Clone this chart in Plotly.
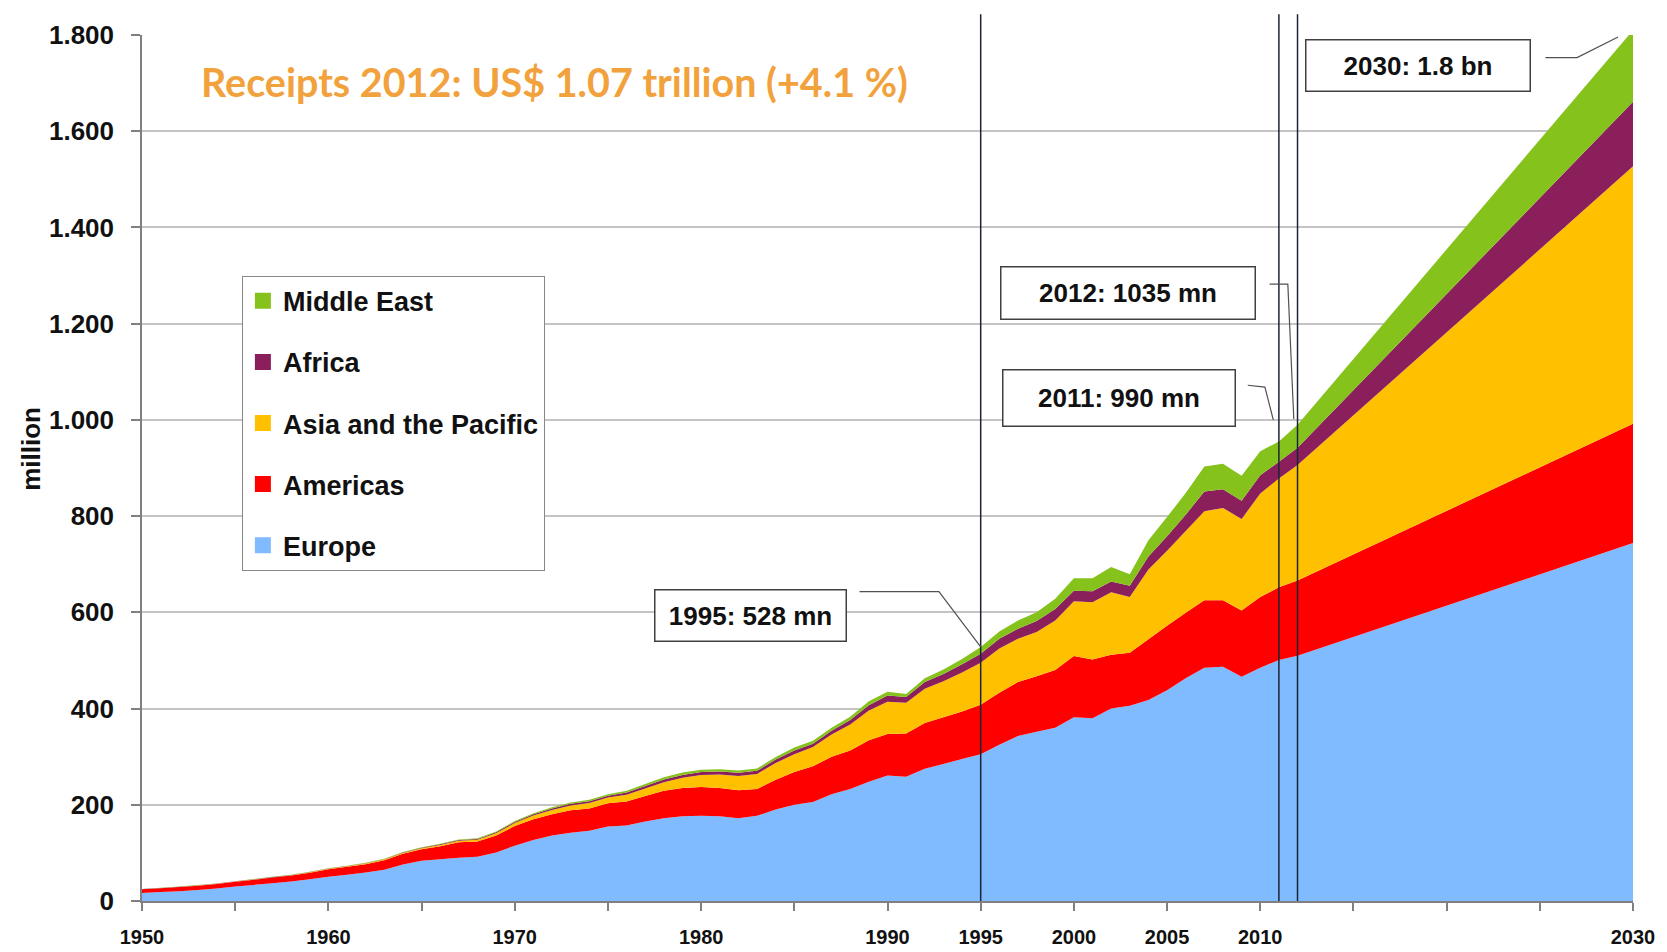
import plotly.graph_objects as go

# ---------------- data (million international tourist arrivals) ----------------
years = list(range(1950, 2013)) + [2030]

europe = [16.8, 18.5, 20.5, 23.0, 26.0, 30.0, 33.5, 37.0, 40.5, 45.0,
          50.4, 54.5, 59.0, 65.0, 76.0, 83.5, 87.0, 90.0, 92.0, 101.0,
          115.0, 127.0, 136.0, 142.0, 146.0, 155.0, 157.0, 165.0, 172.0, 176.0,
          177.0, 176.0, 172.0, 177.0, 190.0, 200.0, 206.0, 222.0, 233.0, 248.0,
          261.0, 258.0, 275.0, 285.0, 295.0, 305.0, 325.0, 343.0, 352.0, 360.0,
          382.0, 380.0, 400.0, 406.0, 418.0, 438.0, 463.0, 485.0, 487.0, 466.0,
          485.0, 501.0, 510.0, 744.0]
americas = [7.5, 7.9, 8.4, 8.8, 9.3, 10.0, 10.8, 11.6, 12.5, 13.8,
            15.5, 16.5, 17.5, 19.5, 22.0, 24.0, 27.0, 32.0, 31.5, 35.0,
            41.0, 43.0, 44.5, 46.5, 46.5, 48.0, 50.0, 53.0, 57.0, 59.0,
            60.0, 59.0, 58.0, 56.0, 62.0, 68.0, 74.0, 78.0, 80.0, 86.0,
            86.0, 90.0, 95.0, 97.0, 99.0, 103.0, 108.0, 112.0, 115.0, 120.0,
            127.0, 122.0, 112.0, 110.0, 126.0, 134.0, 136.0, 140.0, 138.0, 138.0,
            147.0, 151.0, 156.0, 248.0]
asia_pacific = [0.2, 0.2, 0.3, 0.3, 0.4, 0.4, 0.5, 0.5, 0.6, 0.7,
                0.9, 1.0, 1.2, 1.5, 1.8, 2.1, 2.6, 3.2, 3.8, 4.8,
                6.0, 7.5, 8.8, 10.0, 11.0, 12.0, 14.0, 16.0, 18.0, 21.0,
                25.0, 28.0, 30.0, 31.0, 35.0, 37.0, 40.0, 46.0, 54.0, 62.0,
                67.0, 64.0, 71.0, 75.0, 81.0, 87.0, 92.0, 90.0, 92.0, 103.0,
                114.0, 119.0, 130.0, 116.0, 145.0, 156.0, 170.0, 185.0, 192.0, 190.0,
                215.0, 226.0, 240.0, 535.0]
africa = [0.5, 0.5, 0.5, 0.6, 0.6, 0.6, 0.6, 0.7, 0.7, 0.7,
          0.8, 0.9, 0.9, 1.0, 1.1, 1.2, 1.3, 1.5, 1.7, 2.0,
          2.4, 2.8, 3.2, 3.5, 3.8, 4.0, 4.5, 5.0, 5.5, 6.0,
          6.0, 6.0, 6.5, 6.5, 7.0, 8.0, 7.0, 8.0, 9.0, 11.0,
          13.0, 12.0, 14.0, 15.0, 17.0, 19.0, 20.0, 21.0, 23.0, 24.0,
          22.0, 23.0, 22.0, 23.0, 27.0, 30.0, 34.0, 41.0, 39.0, 38.0,
          38.0, 35.0, 36.0, 134.0]
middle_east = [0.2, 0.2, 0.2, 0.3, 0.3, 0.3, 0.3, 0.4, 0.4, 0.5,
               0.6, 0.6, 0.7, 0.8, 0.9, 1.0, 1.1, 1.2, 1.3, 1.5,
               1.8, 2.1, 2.4, 2.7, 2.9, 3.0, 3.5, 4.0, 4.5, 5.0,
               5.0, 5.0, 5.0, 5.0, 5.5, 6.0, 6.0, 6.0, 7.0, 8.0,
               8.0, 6.0, 8.0, 9.0, 11.0, 14.0, 15.0, 17.0, 18.0, 21.0,
               26.0, 27.0, 30.0, 24.0, 34.0, 40.0, 45.0, 52.0, 53.0, 52.0,
               50.0, 42.0, 48.0, 149.0]

series_names = ["Europe", "Americas", "Asia and the Pacific", "Africa", "Middle East"]
series_values = [europe, americas, asia_pacific, africa, middle_east]
series_colors = ["#80BAFF", "#FF0000", "#FFC000", "#8A1F5C", "#86C21C"]

x_tick_vals = list(range(1950, 2031, 5))
x_tick_labels = ["1950", "", "1960", "", "1970", "", "1980", "", "1990", "1995",
                 "2000", "2005", "2010", "", "", "", "2030"]
y_tick_vals = list(range(0, 1801, 200))
y_tick_labels = ["0", "200", "400", "600", "800", "1.000", "1.200", "1.400", "1.600", "1.800"]

title_text = "Receipts 2012: US$ 1.07 trillion (+4.1 %)"
marker_years = [1995, 2011, 2012]

# ---------------- figure ----------------
SANS = "Liberation Sans, Arial, sans-serif"

fig = go.Figure()
for name, vals, col in zip(series_names, series_values, series_colors):
    fig.add_trace(go.Scatter(
        x=years, y=vals, name=name, stackgroup="one", mode="none",
        fillcolor=col, line=dict(width=0), showlegend=False, hoverinfo="skip"))

# legend swatches (square markers), listed top-down as in the reference
for name, col in reversed(list(zip(series_names, series_colors))):
    fig.add_trace(go.Scatter(
        x=[None], y=[None], name=name, mode="markers", legendgroup=name,
        marker=dict(symbol="square", size=20, color=col), hoverinfo="skip"))

totals = [sum(v) for v in zip(*series_values)]
tot = dict(zip(years, totals))

shapes = []
for yr in marker_years:
    shapes.append(dict(type="line", xref="x", yref="paper", x0=yr, x1=yr,
                       y0=0, y1=1.024, line=dict(color="#1c2433", width=1.5),
                       layer="above"))

lead = dict(color="#505050", width=1.2)
def leader(pts):
    return dict(type="path", xref="x", yref="y", layer="above", line=lead,
                path="M " + " L ".join(f"{a},{b}" for a, b in pts))

shapes += [
    leader([(1988.5, 643), (1992.76, 643), (1995, tot[1995])]),
    leader([(2009.33, 1072), (2010.25, 1068), (2010.7, 1000)]),
    leader([(2010.5, 1282), (2011.48, 1282), (2011.8, 1002)]),
    leader([(2025.3, 1753), (2027.0, 1753), (2029.2, 1796)]),
]

box_font = dict(family=SANS, size=26, color="#111111", weight=700)
def box(text, xc, yc, w, h):
    return dict(text=text, x=xc, y=yc, xref="x", yref="y", showarrow=False,
                xanchor="center", yanchor="middle", width=w, height=h,
                bordercolor="#404040", borderwidth=1.5, borderpad=0,
                bgcolor="white", font=box_font)

annotations = [
    box("1995: 528 mn", 1982.67, 594, 190, 50),
    box("2011: 990 mn", 2002.41, 1045, 231, 55),
    box("2012: 1035 mn", 2002.9, 1264, 253, 51),
    box("2030: 1.8 bn", 2018.45, 1736, 223, 50),
    dict(text=title_text, xref="paper", yref="paper", x=0.038, y=0.946,
         xanchor="left", yanchor="middle", showarrow=False,
         font=dict(family="Lato, Open Sans, sans-serif", size=39.5,
                   color="#F2A23C", weight=700)),
    dict(text="million", xref="paper", yref="paper", x=-0.0749, y=0.5225,
         xanchor="center", yanchor="middle", showarrow=False, textangle=-90,
         font=dict(family=SANS, size=26, color="#111111", weight=700)),
]

fig.update_layout(
    width=1667, height=952,
    margin=dict(l=134, r=42, t=17, b=43),
    paper_bgcolor="white", plot_bgcolor="white",
    hovermode=False,
    shapes=shapes, annotations=annotations,
    legend=dict(x=0.067, y=0.722, xanchor="left", yanchor="top",
                bgcolor="white", bordercolor="#888888", borderwidth=1,
                traceorder="grouped", tracegroupgap=23,
                font=dict(family=SANS, size=27, color="#111111", weight=700)),
    xaxis=dict(range=[1950, 2030], tickvals=x_tick_vals, ticktext=x_tick_labels,
               ticks="outside", ticklen=8, tickcolor="#808080", tickwidth=1.5,
               showline=True, linecolor="#808080", linewidth=1.5,
               showgrid=False, zeroline=False, ticklabelstandoff=9,
               ticklabeloverflow="allow",
               tickfont=dict(family=SANS, size=20, color="#111111", weight=700)),
    yaxis=dict(range=[0, 1800], tickvals=y_tick_vals, ticktext=y_tick_labels,
               ticks="outside", ticklen=9, tickcolor="#808080", tickwidth=1.5,
               showline=True, linecolor="#808080", linewidth=1.5,
               showgrid=True, gridcolor="#c4c4c4", gridwidth=1.5,
               zeroline=False, ticklabelstandoff=12,
               tickfont=dict(family=SANS, size=26, color="#111111", weight=700)),
)

fig.write_html("out.html", config={"displayModeBar": False})
